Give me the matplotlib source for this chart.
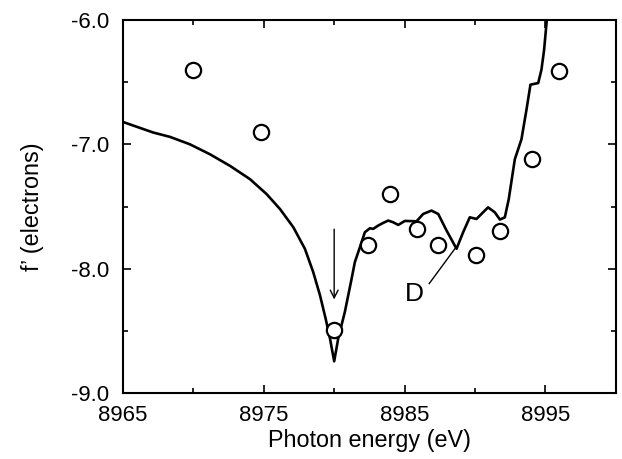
import matplotlib.pyplot as plt
from matplotlib.ticker import MultipleLocator

plt.rcParams['font.family'] = ['Liberation Sans', 'DejaVu Sans']
plt.rcParams['axes.unicode_minus'] = False

# calculated f' curve
energy_calc = [8965.0, 8967.15, 8968.34, 8969.76, 8971.18, 8972.6, 8974.02, 8975.2,
               8976.15, 8977.1, 8977.92, 8978.51, 8978.99, 8979.39, 8979.7, 8980.0,
               8980.29, 8980.76, 8981.24, 8981.47, 8981.82, 8982.18, 8982.54, 8982.77,
               8983.13, 8983.48, 8983.84, 8984.19, 8984.55, 8985.02, 8985.85, 8986.32,
               8986.91, 8987.39, 8987.98, 8988.69, 8989.16, 8989.63, 8990.11, 8990.46,
               8990.93, 8991.41, 8991.77, 8992.12, 8992.4, 8992.83, 8993.3, 8993.66,
               8993.94, 8994.49, 8994.72, 8994.91, 8995.1, 8995.3]
f_calc = [-6.82, -6.905, -6.94, -7.0, -7.08, -7.173, -7.28, -7.4,
          -7.52, -7.667, -7.84, -8.027, -8.213, -8.40, -8.56, -8.745,
          -8.56, -8.347, -8.08, -7.947, -7.83, -7.707, -7.675, -7.68,
          -7.653, -7.632, -7.613, -7.627, -7.648, -7.616, -7.619, -7.56,
          -7.533, -7.56, -7.693, -7.84, -7.707, -7.587, -7.60, -7.56,
          -7.507, -7.547, -7.605, -7.587, -7.44, -7.12, -6.96, -6.72,
          -6.52, -6.507, -6.40, -6.24, -6.0, -5.8]

# measured points
energy_meas = [8970.0, 8974.8, 8980.0, 8982.4, 8984.0, 8985.9, 8987.4, 8990.1,
               8991.8, 8994.05, 8996.0]
f_meas = [-6.40, -6.90, -8.49, -7.81, -7.40, -7.68, -7.81, -7.89,
          -7.70, -7.12, -6.41]

fig = plt.figure(figsize=(6.22, 4.59), dpi=100)
ax = fig.add_axes([0.1977, 0.1438, 0.7923, 0.8126])

ax.plot(energy_calc, f_calc, color='black', lw=1.9, solid_joinstyle='round')
ax.plot(energy_meas, f_meas, 'o', ms=11, mfc='white', mec='black', mew=1.6)

# arrow at the edge
ax.annotate('', xy=(8980.0, -8.27), xytext=(8980.0, -7.66),
            arrowprops=dict(arrowstyle='->', color='black', lw=1.0,
                            mutation_scale=14))
# D label with leader line
ax.plot([8986.75, 8988.57], [-8.12, -7.84], color='black', lw=1.0)
ax.text(8985.7, -8.2, 'D', fontsize=19, ha='center', va='center')

ax.set_xlim(8965, 9000)
ax.set_ylim(-9.0, -6.0)
ax.set_xticks([8965, 8975, 8985, 8995])
ax.xaxis.set_minor_locator(MultipleLocator(5))
ax.set_yticks([-9.0, -8.0, -7.0, -6.0])
ax.set_yticklabels(['-9.0', '-8.0', '-7.0', '-6.0'])
ax.yaxis.set_minor_locator(MultipleLocator(0.5))
ax.tick_params(which='both', direction='in', top=True, right=True,
               labelsize=16, width=1.2)
ax.tick_params(which='major', length=6)
ax.tick_params(which='minor', length=3.5)
ax.tick_params(axis='x', pad=9)
ax.tick_params(axis='y', pad=10)
for s in ax.spines.values():
    s.set_linewidth(1.5)

ax.set_xlabel('Photon energy (eV)', fontsize=16.8, labelpad=2)
ax.set_ylabel('f’ (electrons)', fontsize=16.8, labelpad=19)

fig.savefig('out.png', dpi=100)
